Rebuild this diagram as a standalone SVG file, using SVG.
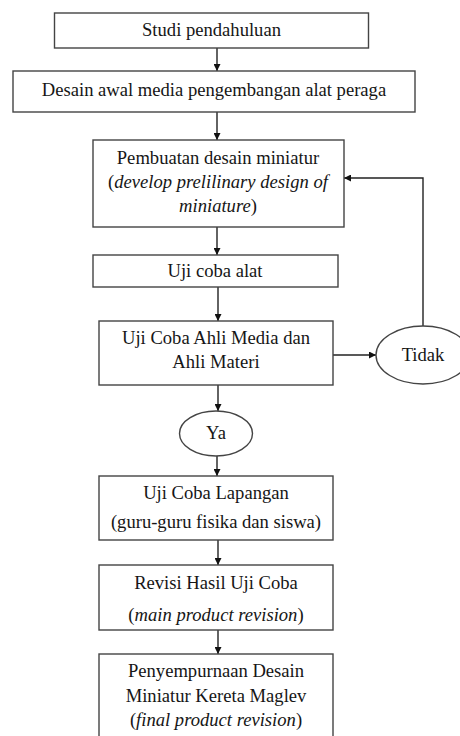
<svg xmlns="http://www.w3.org/2000/svg" width="460" height="736" viewBox="0 0 460 736">
<style>
.box{fill:#fff;stroke:#444;stroke-width:1.4}
.t{font-family:"Liberation Serif","Times New Roman",serif;font-size:18.6px;fill:#161616;text-anchor:middle}
.i{font-style:italic}
.c{fill:none;stroke:#222;stroke-width:1.4}
</style>
<defs>
<marker id="ah" viewBox="0 0 10 10" refX="10" refY="5" markerWidth="7" markerHeight="7" markerUnits="userSpaceOnUse" orient="auto">
<path d="M0,0 L10,5 L0,10 z" fill="#111"/>
</marker>
</defs>
<rect width="460" height="736" fill="#fff"/>
<g id="connectors">
<line class="c" x1="217" y1="48" x2="217" y2="71" marker-end="url(#ah)"/>
<line class="c" x1="217" y1="112" x2="217" y2="140" marker-end="url(#ah)"/>
<line class="c" x1="217" y1="227" x2="217" y2="255" marker-end="url(#ah)"/>
<line class="c" x1="218" y1="287" x2="218" y2="321" marker-end="url(#ah)"/>
<line class="c" x1="333" y1="355" x2="376" y2="355" marker-end="url(#ah)"/>
<polyline class="c" points="423,326 423,178 344,178" marker-end="url(#ah)"/>
<line class="c" x1="218" y1="385" x2="218" y2="411" marker-end="url(#ah)"/>
<line class="c" x1="217" y1="456" x2="217" y2="476" marker-end="url(#ah)"/>
<line class="c" x1="218" y1="540" x2="218" y2="565" marker-end="url(#ah)"/>
<line class="c" x1="218" y1="630" x2="218" y2="654" marker-end="url(#ah)"/>
</g>
<g id="n1">
<rect class="box" x="54.5" y="13" width="314" height="35"/>
<text class="t" x="211.5" y="36">Studi pendahuluan</text>
</g>
<g id="n2">
<rect class="box" x="13" y="71" width="402" height="41"/>
<text class="t" x="214" y="96">Desain awal media pengembangan alat peraga</text>
</g>
<g id="n3">
<rect class="box" x="93" y="140" width="251" height="87"/>
<text class="t" x="218" y="164">Pembuatan desain miniatur</text>
<text class="t" x="218" y="188">(<tspan class="i">develop prelilinary design of</tspan></text>
<text class="t" x="218" y="212"><tspan class="i">miniature</tspan>)</text>
</g>
<g id="n4">
<rect class="box" x="93" y="255" width="245" height="32"/>
<text class="t" x="215" y="277">Uji coba alat</text>
</g>
<g id="n5">
<rect class="box" x="99" y="321" width="234" height="64"/>
<text class="t" x="216" y="344">Uji Coba Ahli Media dan</text>
<text class="t" x="216" y="368">Ahli Materi</text>
</g>
<g id="tidak">
<ellipse class="box" cx="423" cy="355" rx="47" ry="29"/>
<text class="t" x="423" y="361">Tidak</text>
</g>
<g id="ya">
<ellipse class="box" cx="216" cy="433.5" rx="36.5" ry="22.5"/>
<text class="t" x="216" y="439">Ya</text>
</g>
<g id="n6">
<rect class="box" x="99" y="476" width="234" height="64"/>
<text class="t" x="216" y="499">Uji Coba Lapangan</text>
<text class="t" x="216" y="528">(guru-guru fisika dan siswa)</text>
</g>
<g id="n7">
<rect class="box" x="99" y="565" width="234" height="65"/>
<text class="t" x="216" y="589">Revisi Hasil Uji Coba</text>
<text class="t" x="216" y="621">(<tspan class="i">main product revision</tspan>)</text>
</g>
<g id="n8">
<rect class="box" x="99" y="654" width="234" height="90"/>
<text class="t" x="216" y="677">Penyempurnaan Desain</text>
<text class="t" x="216" y="702">Miniatur Kereta Maglev</text>
<text class="t" x="216" y="726">(<tspan class="i">final product revision</tspan>)</text>
</g>
</svg>
